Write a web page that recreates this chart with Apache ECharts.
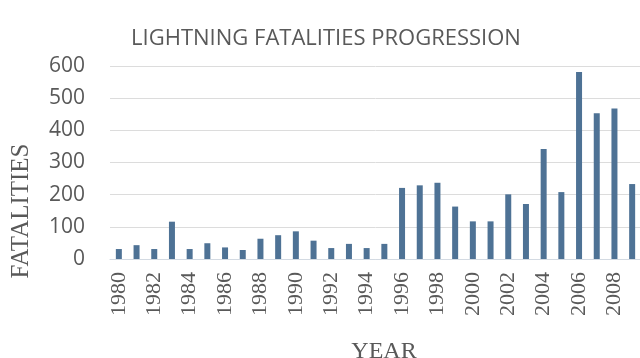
<!DOCTYPE html>
<html>
<head>
<meta charset="utf-8">
<script src="https://cdn.jsdelivr.net/npm/echarts@6/dist/echarts.min.js"></script>
<style>
  html, body { margin: 0; padding: 0; background: #fff; }
  #chart { width: 640px; height: 358px; }
</style>
</head>
<body>
<div id="chart"></div>
<script>
// Annual lightning fatalities, 1980-2009
const years = ['1980','1981','1982','1983','1984','1985','1986','1987','1988','1989',
               '1990','1991','1992','1993','1994','1995','1996','1997','1998','1999',
               '2000','2001','2002','2003','2004','2005','2006','2007','2008','2009'];
const fatalities = [31, 43, 31, 116, 31, 49, 36, 28, 63, 74,
                    86, 57, 34, 47, 34, 47, 221, 229, 237, 163,
                    117, 117, 201, 171, 342, 208, 581, 453, 468, 233];
const yTicks = [0, 100, 200, 300, 400, 500, 600];

const chart = echarts.init(document.getElementById('chart'));

const grey = '#595959';

chart.setOption({
  animation: false,
  title: {
    text: 'LIGHTNING FATALITIES PROGRESSION',
    left: 321,
    top: 23,
    textAlign: 'center',
    textStyle: {
      fontFamily: 'Open Sans',
      fontWeight: 'normal',
      fontSize: 22,
      color: grey
    }
  },
  // fixed plot box; the last bar runs to the right edge of the canvas
  grid: { left: 110, top: 66, width: 531, height: 193, outerBoundsMode: 'none', containLabel: false },
  xAxis: {
    type: 'category',
    data: years,
    axisLine: { lineStyle: { color: '#d3dae2' } },
    axisTick: { show: false },
    axisLabel: { rotate: 90, fontSize: 22, color: grey, interval: 1, fontFamily: 'Liberation Serif', margin: 13 }
  },
  yAxis: {
    type: 'value',
    min: yTicks[0],
    max: yTicks[yTicks.length - 1],
    interval: 100,
    axisLabel: {
      margin: 25,
      fontFamily: 'Open Sans',
      fontSize: 21,
      color: grey
    },
    splitLine: { lineStyle: { color: '#dcdcdc', width: 1 } }
  },
  graphic: [{
    // vertical axis title, set lower than the plot's middle
    type: 'text',
    x: 21,
    y: 211,
    rotation: Math.PI / 2,
    style: {
      text: 'FATALITIES',
      font: '25px "Liberation Serif"',
      fill: grey,
      align: 'center',
      verticalAlign: 'middle'
    }
  }, {
    // horizontal axis title, partly below the bottom edge
    type: 'text',
    x: 384,
    y: 340,
    style: {
      text: 'YEAR',
      font: '24px "Liberation Serif"',
      fill: grey,
      align: 'center',
      verticalAlign: 'top'
    }
  }],
  series: [{
    type: 'bar',
    data: fatalities,
    barWidth: 6,
    itemStyle: { color: '#4e7295' }
  }]
});
</script>
</body>
</html>
